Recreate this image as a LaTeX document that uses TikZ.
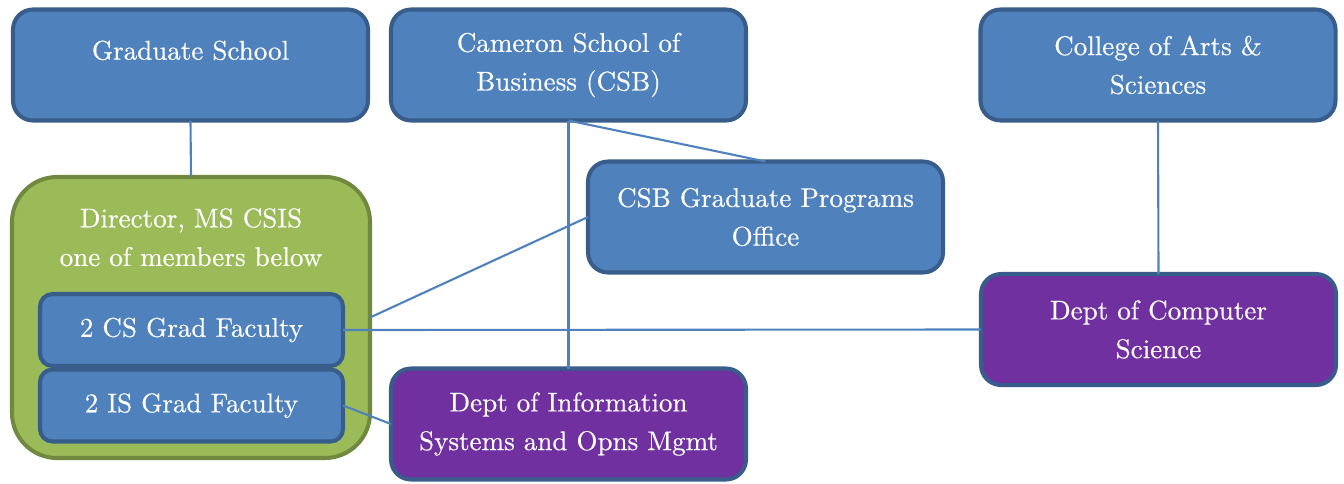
\documentclass[tikz,border=0pt]{standalone}
\usepackage{fontspec}
\newfontfamily\boxfont{lmroman10-regular.otf}[FakeBold=0.35]
\usetikzlibrary{positioning}
\definecolor{boxblue}{HTML}{4F81BD}
\definecolor{edgeblue}{HTML}{385D8A}
\definecolor{boxgreen}{HTML}{9BBB59}
\definecolor{edgegreen}{HTML}{71893F}
\definecolor{deptpurple}{HTML}{7030A0}

\begin{document}
\begin{tikzpicture}[font=\boxfont\fontsize{15.4}{22}\selectfont,
  unit/.style={draw=edgeblue,fill=boxblue,line width=2.3pt,rounded corners=0.4cm,
               minimum width=7.1cm,minimum height=2.22cm,align=center,text=white,
               inner sep=0pt,outer sep=0pt},
  dept/.style={unit,fill=deptpurple},
  fac/.style={unit,rounded corners=0.25cm,minimum width=6.06cm,minimum height=1.44cm},
  grp/.style={draw=edgegreen,fill=boxgreen,line width=2.3pt,rounded corners=0.9cm,
              minimum width=7.16cm,minimum height=5.62cm,outer sep=0pt},
  link/.style={draw=boxblue,line width=1.2pt}]
\useasboundingbox (0,0) rectangle (26.88,-9.66);

% schools along the top
\node[unit] (grad) at (3.81,-1.30) {Graduate School\\[-5pt]\mbox{}};
\node[unit] (csb)  at (11.37,-1.30) {Cameron School of\\Business (CSB)};
\node[unit] (arts) at (23.16,-1.30) {College of Arts \&\\Sciences};
\node[unit] (office) at (15.31,-4.34) {CSB Graduate Programs\\Office};

% program director group with its faculty
\node[grp] (dir) at (3.82,-6.35) {};
\node[align=center,text=white,anchor=north] (dirtxt) at ([yshift=-0.5cm]dir.north)
  {Director, MS CSIS\\one of members below};
\node[fac] (csfac) at (3.83,-6.60) {2 CS Grad Faculty};
\node[fac] (isfac) at (3.83,-8.11) {2 IS Grad Faculty};

% departments
\node[dept] (isdept) at (11.37,-8.48) {Dept of Information\\Systems and Opns Mgmt};
\node[dept] (csdept) at (23.17,-6.59) {Dept of Computer\\Science};

\draw[link] (grad.south) -- (dir.north);
\draw[link] (csb.south) -- (isdept.north);
\draw[link] (csb.south) -- (office.north);
\draw[link] (office.west) -- (dir.east);
\draw[link] (csfac.east) -- (csdept.west);
\draw[link] (isfac.east) -- (isdept.west);
\draw[link] (arts.south) -- (csdept.north);
\end{tikzpicture}
\end{document}
